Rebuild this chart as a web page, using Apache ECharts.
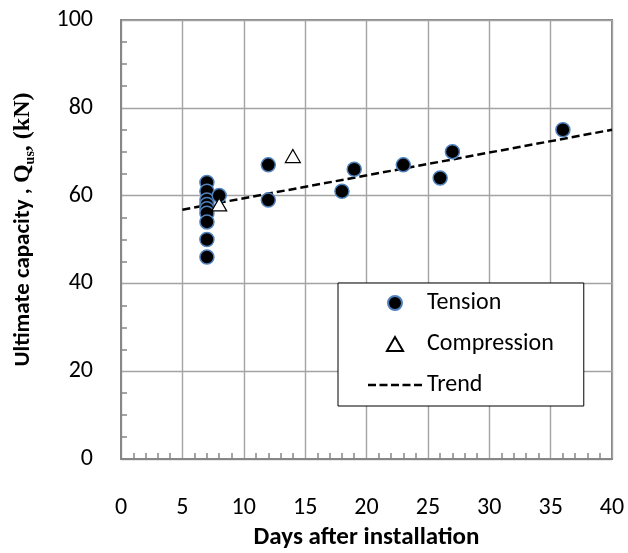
<!DOCTYPE html>
<html>
<head>
<meta charset="utf-8">
<script src="https://cdn.jsdelivr.net/npm/echarts@6/dist/echarts.min.js"></script>
<style>
  html, body { margin: 0; padding: 0; background: #fff; }
  #chart { width: 628px; height: 553px; }
</style>
</head>
<body>
<div id="chart"></div>
<script>
// values
var tensionDays = [7, 7, 7, 7, 7, 7, 7, 7, 7, 8, 12, 12, 18, 19, 23, 26, 27, 36];
var tensionQ    = [63, 61, 59, 58, 57, 56, 54, 50, 46, 60, 67, 59, 61, 66, 67, 64, 70, 75];
var compressionDays = [8, 14];
var compressionQ    = [58, 69];
var trendDays = [5, 40];
var trendQ    = [56.8, 75];
var xTicks = [0, 5, 10, 15, 20, 25, 30, 35, 40];
var yTicks = [0, 20, 40, 60, 80, 100];

var pairs = function (xs, ys) {
  return xs.map(function (x, i) { return [x, ys[i]]; });
};

var font = 'Carlito, Lato, sans-serif';
var serif = '"Liberation Serif", serif';
var axisGrey = '#878787';
var gridGrey = '#a3a3a3';

// legend icons (kept to aspect by the legend)
var triangleIcon = 'path://M7.5,0L15,13L0,13Z';
var dashIcon = 'path://M0,0h8v2.5h-8zM11.5,0h8v2.5h-8zM23,0h8v2.5h-8zM34.5,0h8v2.5h-8zM46,0h8v2.5h-8z';

var chart = echarts.init(document.getElementById('chart'), null, { renderer: 'canvas' });

chart.setOption({
  animation: false,
  backgroundColor: '#fff',
  grid: {
    left: 121, top: 20, right: 16, bottom: 94,
    outerBoundsMode: 'none',
    show: true, borderColor: axisGrey, borderWidth: 2
  },
  legend: {
    orient: 'vertical',
    left: 338, top: 283,
    padding: [8, 30, 9, 30],
    borderColor: '#000', borderWidth: 1,
    backgroundColor: '#fff',
    itemWidth: 54, itemHeight: 14, itemGap: 17,
    symbolKeepAspect: true,
    textStyle: { fontFamily: font, fontSize: 24, color: '#000', lineHeight: 24 },
    data: [
      { name: 'Tension', icon: 'circle' },
      { name: 'Compression', icon: triangleIcon },
      { name: 'Trend', icon: dashIcon }
    ]
  },
  xAxis: {
    type: 'value',
    min: xTicks[0], max: xTicks[xTicks.length - 1], interval: 5,
    name: 'Days after installation',
    nameLocation: 'middle', nameGap: 66,
    nameTextStyle: { fontFamily: font, fontSize: 25, fontWeight: 'bold', color: '#000' },
    axisLine: { lineStyle: { color: axisGrey, width: 2 } },
    axisTick: { show: false, inside: true },
    minorTick: { show: true, splitNumber: 5, length: 6, lineStyle: { color: axisGrey, width: 1.5 } },
    axisLabel: { margin: 37, fontFamily: font, fontSize: 24, color: '#000' },
    splitLine: { show: true, lineStyle: { color: gridGrey, width: 1.4 } }
  },
  yAxis: {
    type: 'value',
    min: yTicks[0], max: yTicks[yTicks.length - 1], interval: 20,
    name: '{sp|}{a|Ultimate capacity , }{q|Q}{sub|us}{q|, (kN)}',
    nameLocation: 'middle', nameGap: 84, nameRotate: 90,
    nameTextStyle: {
      rich: {
        sp: { width: 20, lineHeight: 28 },
        a: { fontFamily: font, fontSize: 23, fontWeight: 'bold', color: '#000', lineHeight: 28 },
        q: { fontFamily: serif, fontSize: 24, fontWeight: 'bold', color: '#000', lineHeight: 28 },
        sub: { fontFamily: serif, fontSize: 14, fontWeight: 'bold', color: '#000', lineHeight: 28, verticalAlign: 'bottom' }
      }
    },
    axisLine: { lineStyle: { color: axisGrey, width: 2 } },
    axisTick: { show: false, inside: true },
    minorTick: { show: true, splitNumber: 4, length: 6, lineStyle: { color: axisGrey, width: 1.5 } },
    axisLabel: { margin: 28, fontFamily: font, fontSize: 24, color: '#000' },
    splitLine: { show: true, lineStyle: { color: gridGrey, width: 1.4 } }
  },
  series: [
    {
      name: 'Trend',
      type: 'line',
      data: pairs(trendDays, trendQ),
      symbol: 'none',
      z: 2,
      lineStyle: { color: '#000', width: 2.5, type: [8, 4] },
      itemStyle: { color: '#000' }
    },
    {
      name: 'Tension',
      type: 'scatter',
      data: pairs(tensionDays, tensionQ),
      symbol: 'circle',
      symbolSize: 14,
      z: 3,
      itemStyle: { color: '#000', borderColor: '#4f81bd', borderWidth: 1.5, opacity: 1 }
    },
    {
      name: 'Compression',
      type: 'scatter',
      data: pairs(compressionDays, compressionQ),
      symbol: 'triangle',
      symbolSize: [15, 13],
      z: 4,
      itemStyle: { color: '#fff', borderColor: '#000', borderWidth: 1.2, opacity: 1 }
    }
  ]
});
</script>
</body>
</html>
